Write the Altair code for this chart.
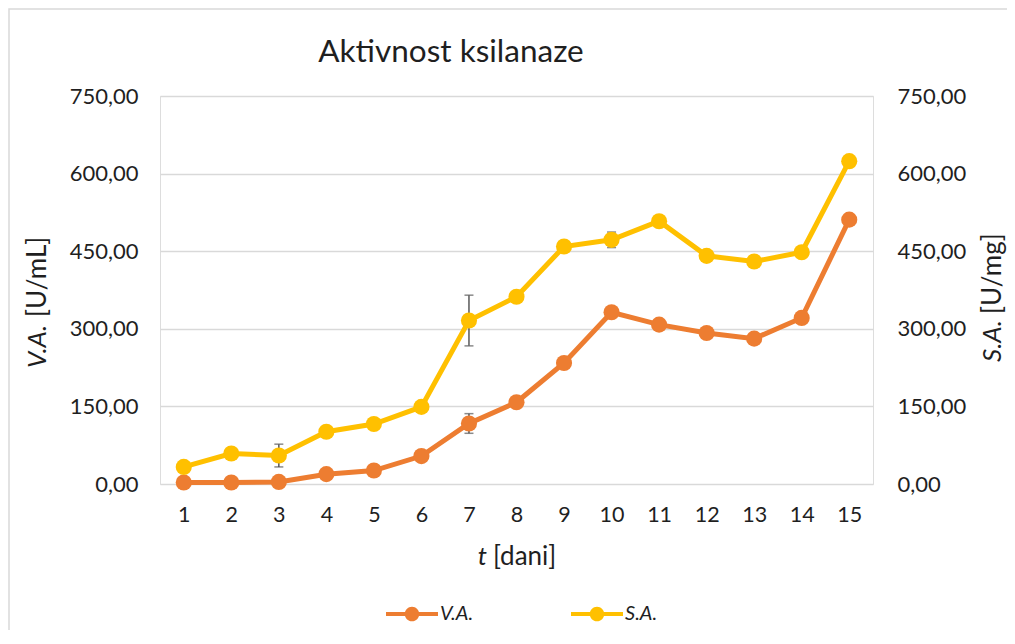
import altair as alt
import pandas as pd

# ---- data ----
days = list(range(1, 16))
va_values = [3, 3, 4, 19, 26, 54, 117, 158, 234, 332, 308, 292, 281, 321, 511]
sa_values = [33, 59, 55, 101, 116, 149, 316, 362, 459, 472, 508, 441, 430, 448, 624]
va_errors = [0, 0, 0, 0, 0, 0, 19, 0, 0, 0, 0, 0, 0, 0, 0]
sa_errors = [0, 0, 22, 0, 0, 0, 49, 0, 0, 15, 0, 0, 0, 0, 0]
series_names = ["V.A.", "S.A."]
series_colors = ["#ED7D31", "#FFC000"]
y_ticks = [0, 150, 300, 450, 600, 750]

FONT = "Lato"
TXT = "#1f1f1f"
GRID = "#D9D9D9"
ERR = "#595959"
W, H = 713, 388

va_df = pd.DataFrame({"day": days, "val": va_values, "err": va_errors, "series": series_names[0]})
sa_df = pd.DataFrame({"day": days, "val": sa_values, "err": sa_errors, "series": series_names[1]})

x_enc = alt.X(
    "day:Q",
    scale=alt.Scale(domain=[0.5, 15.5], nice=False, zero=False),
    axis=alt.Axis(values=days, format="d", title=None, domain=False, ticks=False, grid=False,
                  labelFont=FONT, labelFontSize=21.5, labelColor=TXT, labelPadding=20),
)

label_expr = "replace(format(datum.value, '.2f'), '.', ',')"
left_axis = alt.Axis(values=y_ticks, labelExpr=label_expr, title=None, domain=False, ticks=False,
                     grid=True, gridColor=GRID, gridWidth=1.5, labelFont=FONT, labelFontSize=22,
                     labelColor=TXT, labelPadding=22)
right_axis = alt.Axis(values=y_ticks, labelExpr=label_expr, title=None, domain=False, ticks=False,
                      grid=False, orient="right", labelFont=FONT, labelFontSize=22,
                      labelColor=TXT, labelPadding=24)
y_scale = alt.Scale(domain=[0, 750], nice=False)

legend_path = ("M-2,-0.15L2,-0.15L2,0.15L-2,0.15Z "
               "M0,-0.56A0.56,0.56 0 1,1 0,0.56A0.56,0.56 0 1,1 0,-0.56Z")
color_enc = alt.Color(
    "series:N",
    scale=alt.Scale(domain=series_names, range=series_colors),
    legend=alt.Legend(
        title=None, orient="none", direction="horizontal", legendX=239, legendY=505,
        symbolType=legend_path, symbolSize=676, symbolStrokeWidth=0, symbolOpacity=1,
        labelFont=FONT, labelFontSize=20, labelFontStyle="italic", labelColor=TXT,
        labelOffset=15, columnPadding=97, padding=0,
    ),
)


def series_group(df, axis, color):
    base = alt.Chart(df)
    err = base.transform_filter("datum.err > 0").transform_calculate(
        lo="datum.val - datum.err", hi="datum.val + datum.err"
    )
    err_rule = err.mark_rule(color=ERR, strokeWidth=1.5).encode(
        x=x_enc, y=alt.Y("lo:Q", scale=y_scale, axis=axis), y2="hi:Q"
    )
    err_caps = err.transform_fold(["lo", "hi"], as_=["end", "yv"]).mark_tick(
        color=ERR, orient="horizontal", size=9, thickness=1.5
    ).encode(x=x_enc, y=alt.Y("yv:Q", scale=y_scale, axis=axis))
    line = base.mark_line(strokeWidth=5, color=color).encode(
        x=x_enc, y=alt.Y("val:Q", scale=y_scale, axis=axis)
    )
    pts = base.mark_circle(size=260, opacity=1).encode(
        x=x_enc, y=alt.Y("val:Q", scale=y_scale, axis=axis), color=color_enc
    )
    return alt.layer(err_rule, err_caps, line, pts)


left_group = series_group(va_df, left_axis, series_colors[0])
right_group = series_group(sa_df, right_axis, series_colors[1])

one = pd.DataFrame({"d": [0]})
border = alt.Chart(one).mark_rect(fillOpacity=0, stroke=GRID, strokeWidth=1.5).encode(
    x=alt.value(-151), x2=alt.value(900), y=alt.value(-87), y2=alt.value(700)
)


def txt(text, x, y, size, style="normal", align="center", angle=0):
    return alt.Chart(one).mark_text(
        text=text, font=FONT, fontSize=size, fontStyle=style, align=align,
        baseline="middle", color=TXT, angle=angle
    ).encode(x=alt.value(x), y=alt.value(y))


title = txt("Aktivnost ksilanaze", 291, -43, 31.5)
xt1 = txt("t", 327, 461, 26, style="italic", align="right")
xt2 = txt("[dani]", 333, 461, 26, align="left")
yl1 = txt("V.A.", -122, 272, 26, style="italic", align="left", angle=270)
yl2 = txt("[U/mL]", -122, 221, 26, align="left", angle=270)
yr1 = txt("S.A.", 833, 266, 26, style="italic", align="left", angle=270)
yr2 = txt("[U/mg]", 833, 218, 26, align="left", angle=270)

chart = alt.layer(
    border, left_group, right_group, title, xt1, xt2, yl1, yl2, yr1, yr2
).resolve_scale(y="independent").properties(
    width=W, height=H,
    autosize=alt.AutoSizeParams(type="none"),
    padding={"left": 152, "top": 88, "right": 134, "bottom": 146},
).configure_view(strokeWidth=0).configure(background="white")

chart.save("out.html", embed_options={"renderer": "svg", "actions": False})
